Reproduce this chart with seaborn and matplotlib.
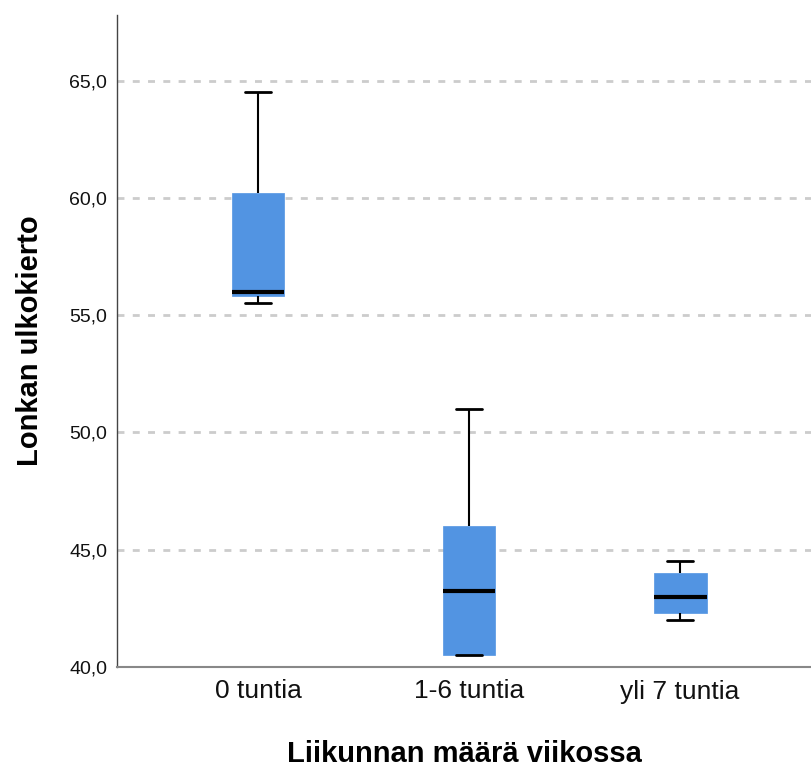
import numpy as np
import matplotlib.pyplot as plt
import pandas as pd
import seaborn as sns
from matplotlib.ticker import FuncFormatter

# per group: lower whisker, Q1, median, Q3, upper whisker
groups = ['0 tuntia', '1-6 tuntia', 'yli 7 tuntia']
g0 = [55.5, 55.8, 56.0, 60.2, 64.5]
g1 = [40.5, 40.5, 43.25, 46.0, 51.0]
g2 = [42.0, 42.3, 43.0, 44.0, 44.5]
yticks = [40, 45, 50, 55, 60, 65]

sns.set_theme(style="white")
plt.rcParams['font.family'] = ['Liberation Sans', 'DejaVu Sans']

df = pd.DataFrame({
    'Liikunta': np.repeat(groups, 5),
    'Lonkka': g0 + g1 + g2,
})

fig = plt.figure(figsize=(8.11, 7.71), dpi=100)
ax = fig.add_axes([117 / 811, 104 / 771, 1 - 117 / 811, 652 / 771])

for y in yticks[1:]:
    ax.axhline(y, color='#cccccc', lw=2, ls=(0, (2.5, 3)), zorder=0)

sns.boxplot(data=df, x='Liikunta', y='Lonkka', ax=ax, color='#5294e2',
            saturation=1, width=0.25, whis=1.5, fliersize=0,
            boxprops=dict(edgecolor='#5294e2', linewidth=0.5),
            medianprops=dict(color='black', linewidth=3),
            whiskerprops=dict(color='black', linewidth=1.5),
            capprops=dict(color='black', linewidth=2))

ax.set_xlim(-0.668, 2.62)
ax.set_ylim(40, 67.8)
ax.set_yticks(yticks)
ax.yaxis.set_major_formatter(FuncFormatter(lambda v, p: f'{v:.1f}'.replace('.', ',')))
ax.tick_params(axis='y', length=0, pad=7, labelsize=14, labelcolor='#111111')
ax.tick_params(axis='x', length=0, pad=9, labelsize=19, labelcolor='#111111')

for s in ['top', 'right']:
    ax.spines[s].set_visible(False)
ax.spines['left'].set_color('#444444')
ax.spines['left'].set_linewidth(1)
ax.spines['bottom'].set_color('#888888')
ax.spines['bottom'].set_linewidth(1.5)

ax.set_xlabel('Liikunnan määrä viikossa', fontsize=21, fontweight='bold',
              labelpad=26, color='black')
ax.set_ylabel('Lonkan ulkokierto', fontsize=21, fontweight='bold',
              labelpad=18, color='black')

fig.savefig('out.png', dpi=100)
